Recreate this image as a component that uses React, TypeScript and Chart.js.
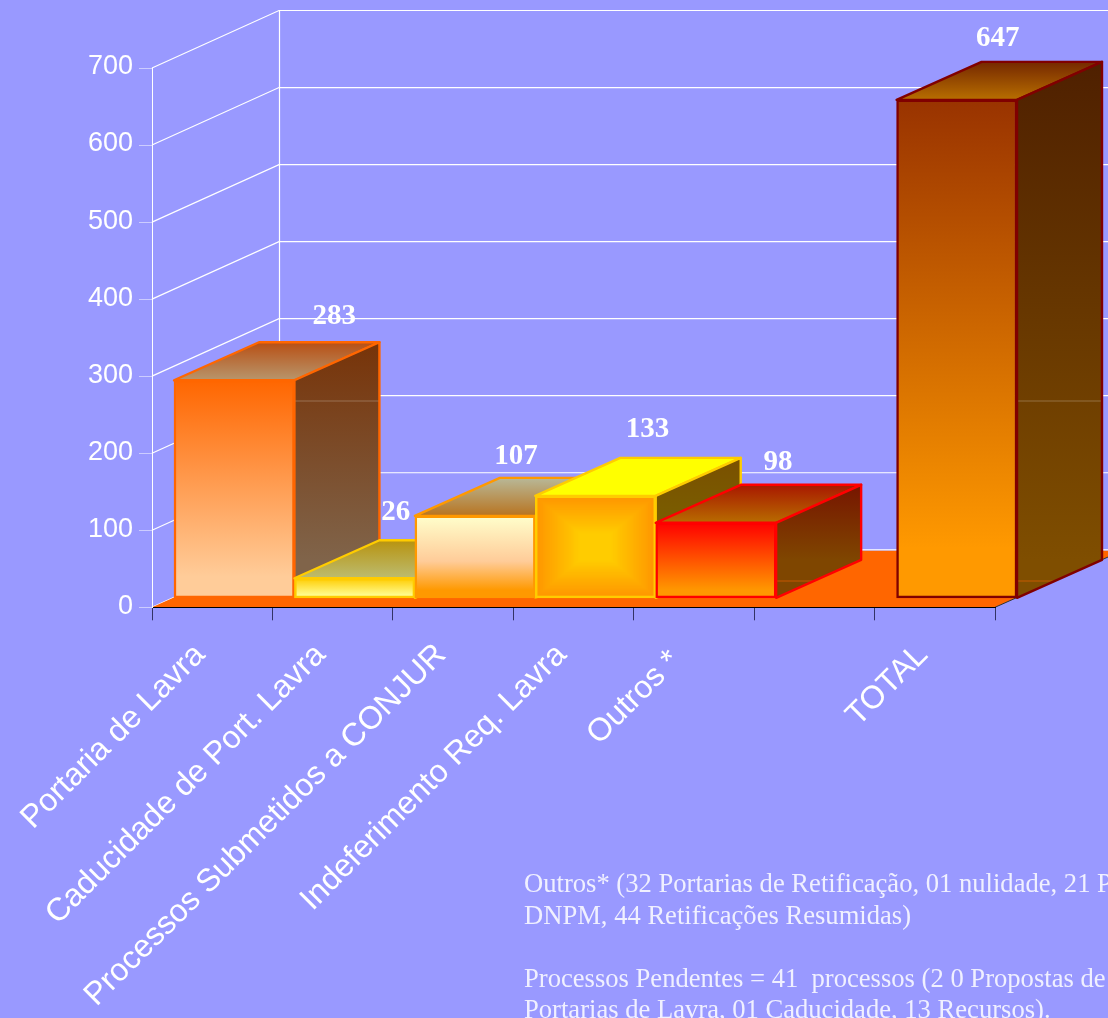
import React, { useEffect, useRef } from "react";
import { Chart, registerables } from "chart.js";

Chart.register(...registerables);

const categories = [
  "Portaria de Lavra",
  "Caducidade de Port. Lavra",
  "Processos Submetidos a CONJUR",
  "Indeferimento Req. Lavra",
  "Outros * ",
  " ",
  "TOTAL",
];
const values = [283, 26, 107, 133, 98, null, 647];
const noteLines = [
  "Outros* (32 Portarias de Retificação, 01 nulidade, 21 P",
  "DNPM, 44 Retificações Resumidas)",
  "",
  "Processos Pendentes = 41  processos (2 0 Propostas de",
  "Portarias de Lavra, 01 Caducidade, 13 Recursos).",
];

const frontTop = ["#ff6600", "#ffcc00", "#ffffcc", "#ff9900", "#ff0000", "#000000", "#993300"];
const frontMid = [null, null, "#ffcc99", null, null, null, null];
const frontBottom = ["#ffcc99", "#ffff99", "#ff9900", "#ff9900", "#ff9900", "#000000", "#ff9900"];
const borders = ["#ff6600", "#ffcc00", "#ff9900", "#ffcc00", "#ff0000", "#000000", "#800000"];
const lidBack = ["#b84f14", "#b8930f", "#b8b898", "#ffff00", "#a81800", "#000000", "#752800"];
const lidFront = ["#b8966c", "#bcbc70", "#b87420", "#ffff00", "#b86c00", "#000000", "#b86e00"];
const sideTop = ["#773308", "#776010", "#777750", "#7a5000", "#771500", "#000000", "#4f2000"];
const sideBottom = ["#80644a", "#807040", "#804a10", "#7a6600", "#7f4600", "#000000", "#7f4e00"];

// layout of the pseudo-3D projection
const WALL_DX = 127;
const GRID_DY = -57.5;
const FLOOR_DY = -56.5;
const BAR_SHIFT_X = 22;
const BAR_SHIFT_Y = -9;
const BOX_DX = 85;
const BOX_DY = -38;
const LABEL_NUDGE_X = [100, 41, 41, 52, 62, 0, 41];
const LABEL_NUDGE_Y = [-64, -66, -59, -66, -60, 0, -61];
// faint seams that show through the translucent side faces
const SEAMS = [
  { y: 401, color: "rgba(255,255,255,0.25)" },
  { y: 581, color: "rgba(255,102,0,0.55)" },
];

const plugin3d = {
  id: "plugin3d",
  beforeDraw(chart: any) {
    const { ctx, scales, width, height } = chart;
    const x = scales.x;
    const y = scales.y;
    const left = x.left;
    const right = x.right;
    const zero = y.getPixelForValue(0);
    const topPx = y.getPixelForValue(700);
    ctx.save();
    ctx.fillStyle = "#9999ff";
    ctx.fillRect(0, 0, width, height);

    ctx.strokeStyle = "#ffffff";
    ctx.lineWidth = 1.2;
    for (const t of y.ticks) {
      const p = y.getPixelForValue(t.value);
      ctx.beginPath();
      ctx.moveTo(left, p);
      ctx.lineTo(left + WALL_DX, p + GRID_DY);
      ctx.lineTo(right + WALL_DX, p + GRID_DY);
      ctx.stroke();
    }
    ctx.beginPath();
    ctx.moveTo(left + WALL_DX + 0.5, topPx + GRID_DY);
    ctx.lineTo(left + WALL_DX + 0.5, zero + FLOOR_DY);
    ctx.stroke();

    ctx.fillStyle = "#ff6600";
    ctx.beginPath();
    ctx.moveTo(left, zero);
    ctx.lineTo(left + WALL_DX, zero + FLOOR_DY);
    ctx.lineTo(right + WALL_DX, zero + FLOOR_DY);
    ctx.lineTo(right, zero);
    ctx.closePath();
    ctx.fill();
    ctx.strokeStyle = "#333333";
    ctx.lineWidth = 1;
    ctx.beginPath();
    ctx.moveTo(right, zero);
    ctx.lineTo(right + WALL_DX, zero + FLOOR_DY);
    ctx.stroke();
    ctx.restore();
  },
  beforeDatasetDraw(chart: any, args: any) {
    const { ctx } = chart;
    const meta = args.meta;
    meta.data.forEach((el: any, i: number) => {
      if (values[i] == null) return;
      const { x, y, base, width } = el.getProps(["x", "y", "base", "width"], true);
      const l = x - width / 2;
      const r = x + width / 2;
      ctx.save();
      ctx.translate(BAR_SHIFT_X, BAR_SHIFT_Y);
      ctx.lineWidth = 2.4;
      ctx.lineJoin = "round";
      ctx.strokeStyle = borders[i];

      const lid = ctx.createLinearGradient(0, y + BOX_DY, 0, y);
      lid.addColorStop(0, lidBack[i]);
      lid.addColorStop(1, lidFront[i]);
      ctx.fillStyle = lid;
      const lidPath = new Path2D();
      lidPath.moveTo(l, y);
      lidPath.lineTo(l + BOX_DX, y + BOX_DY);
      lidPath.lineTo(r + BOX_DX, y + BOX_DY);
      lidPath.lineTo(r, y);
      lidPath.closePath();
      ctx.fill(lidPath);
      ctx.stroke(lidPath);

      const side = ctx.createLinearGradient(0, y + BOX_DY, 0, base + BOX_DY);
      side.addColorStop(0, sideTop[i]);
      side.addColorStop(1, sideBottom[i]);
      ctx.fillStyle = side;
      const sidePath = new Path2D();
      sidePath.moveTo(r, y);
      sidePath.lineTo(r + BOX_DX, y + BOX_DY);
      sidePath.lineTo(r + BOX_DX, base + BOX_DY);
      sidePath.lineTo(r, base);
      sidePath.closePath();
      ctx.fill(sidePath);
      ctx.save();
      ctx.clip(sidePath);
      ctx.lineWidth = 1;
      for (const seam of SEAMS) {
        ctx.strokeStyle = seam.color;
        ctx.beginPath();
        ctx.moveTo(r, seam.y - BAR_SHIFT_Y);
        ctx.lineTo(r + BOX_DX, seam.y - BAR_SHIFT_Y);
        ctx.stroke();
      }
      ctx.restore();
      ctx.stroke(sidePath);

      el.draw(ctx);

      // the one bar whose face has a centre glow rather than a vertical ramp
      if (frontTop[i] === frontBottom[i]) {
        const steps = 24;
        const w = r - l - 5;
        const h = base - y - 5;
        for (let s = 1; s <= steps; s++) {
          const t = s / steps;
          const inset = t * 0.72;
          const g = Math.round(153 + (204 - 153) * t);
          ctx.fillStyle = `rgb(255,${g},0)`;
          ctx.fillRect(
            l + 2.5 + (w * inset) / 2,
            y + 2.5 + (h * inset) / 2,
            w * (1 - inset),
            h * (1 - inset)
          );
        }
      }
      ctx.restore();
    });
    return false;
  },
  afterDraw(chart: any) {
    const { ctx } = chart;
    const meta = chart.getDatasetMeta(0);
    ctx.save();
    ctx.fillStyle = "#ffffff";
    ctx.textAlign = "center";
    ctx.textBaseline = "middle";
    ctx.font = "bold 29px 'Liberation Serif'";
    meta.data.forEach((el: any, i: number) => {
      if (values[i] == null) return;
      ctx.fillText(
        String(values[i]),
        el.x + BAR_SHIFT_X + LABEL_NUDGE_X[i],
        el.y + BAR_SHIFT_Y + LABEL_NUDGE_Y[i]
      );
    });

    ctx.fillStyle = "#f0f0ff";
    ctx.textAlign = "left";
    ctx.textBaseline = "alphabetic";
    ctx.font = "26.6px 'Liberation Serif'";
    noteLines.forEach((line, i) => {
      ctx.fillText(line, 524, 892 + i * 31.6);
    });
    ctx.restore();
  },
};

export default function App() {
  const ref = useRef<HTMLCanvasElement | null>(null);
  useEffect(() => {
    document.body.style.margin = "0";
    document.body.style.background = "#9999ff";
    const chart = new Chart(ref.current as HTMLCanvasElement, {
      type: "bar",
      data: {
        labels: categories,
        datasets: [
          {
            data: values,
            categoryPercentage: 1,
            barPercentage: 1,
            borderSkipped: false,
            borderWidth: 2.5,
            borderColor: (c: any) => borders[c.dataIndex],
            backgroundColor: (c: any) => {
              const { chart: ch, dataIndex: i } = c;
              const yS = ch.scales.y;
              if (!yS || values[i] == null) return frontTop[i];
              const p0 = yS.getPixelForValue(values[i]);
              const p1 = yS.getPixelForValue(0);
              if (!Number.isFinite(p0) || !Number.isFinite(p1)) return frontTop[i];
              const g = ch.ctx.createLinearGradient(0, p0, 0, p1);
              g.addColorStop(0, frontTop[i]);
              if (frontMid[i]) g.addColorStop(0.55, frontMid[i]);
              g.addColorStop(0.9, frontBottom[i]);
              g.addColorStop(1, frontBottom[i]);
              return g;
            },
          },
        ],
      },
      plugins: [plugin3d],
      options: {
        responsive: false,
        animation: false,
        devicePixelRatio: 1,
        layout: { padding: { top: 68, right: 113, left: 0, bottom: 0 } },
        plugins: { legend: { display: false }, tooltip: { enabled: false }, title: { display: false } },
        scales: {
          x: {
            type: "category",
            afterFit: (s: any) => {
              s.height = 410.7;
            },
            grid: {
              offset: true,
              drawOnChartArea: false,
              drawTicks: true,
              tickLength: 13,
              color: "#333366",
            },
            border: { color: "#000000", width: 1 },
            ticks: {
              color: "#ffffff",
              font: { family: "'Liberation Sans'", size: 32 },
              maxRotation: 45,
              minRotation: 45,
              autoSkip: false,
              padding: 16,
              labelOffset: -12,
            },
          },
          y: {
            min: 0,
            max: 700,
            afterFit: (s: any) => {
              s.width = 152;
            },
            grid: { drawOnChartArea: false, drawTicks: true, tickLength: 13, color: "#ccccff" },
            border: { color: "#ffffff", width: 1 },
            ticks: {
              stepSize: 100,
              color: "#ffffff",
              font: { family: "'Liberation Sans'", size: 27 },
              padding: 6,
              labelOffset: -1,
            },
          },
        },
      },
    } as any);
    return () => chart.destroy();
  }, []);
  return (
    <div style={{ position: "absolute", left: 0, top: 0, width: 1108, height: 1018, overflow: "hidden" }}>
      <canvas ref={ref} width={1108} height={1018} style={{ display: "block", width: 1108, height: 1018 }} />
    </div>
  );
}
